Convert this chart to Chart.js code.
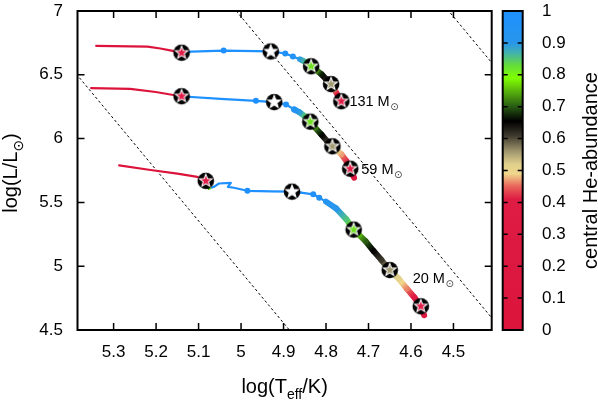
<!DOCTYPE html>
<html>
<head>
<meta charset="utf-8">
<script src="https://cdn.jsdelivr.net/npm/chart.js@4"></script>
<style>
  html, body { margin: 0; padding: 0; background: #fff; }
  canvas { display: block; }
</style>
</head>
<body>
<canvas id="hrd" width="598" height="400"></canvas>
<script>
// axis ticks
const xTicks = [5.3, 5.2, 5.1, 5.0, 4.9, 4.8, 4.7, 4.6, 4.5];
const yTicks = [4.5, 5, 5.5, 6, 6.5, 7];
const cbTicks = [0, 0.1, 0.2, 0.3, 0.4, 0.5, 0.6, 0.7, 0.8, 0.9, 1];

// tracks: [log Teff, log L, central He], ZAMS first
const track131 = [
  [4.762, 6.280, 0.27], [4.771, 6.334, 0.38], [4.781, 6.389, 0.47], [4.788, 6.427, 0.56],
  [4.800, 6.466, 0.62], [4.811, 6.505, 0.67], [4.823, 6.536, 0.74], [4.835, 6.567, 0.80],
  [4.847, 6.598, 0.85], [4.861, 6.621, 0.89], [4.878, 6.644, 0.95], [4.896, 6.667, 0.98],
  [4.930, 6.683, 1.0], [5.041, 6.690, 1.0], [5.135, 6.679, 1.0], [5.142, 6.675, 0],
  [5.161, 6.687, 0], [5.190, 6.706, 0], [5.220, 6.721, 0], [5.341, 6.727, 0]
];
const track59 = [
  [4.734, 5.694, 0.27], [4.743, 5.762, 0.32], [4.752, 5.824, 0.42], [4.764, 5.878, 0.47],
  [4.776, 5.913, 0.51], [4.785, 5.940, 0.56], [4.797, 5.978, 0.61], [4.811, 6.032, 0.66],
  [4.826, 6.087, 0.72], [4.837, 6.133, 0.80], [4.849, 6.172, 0.84], [4.863, 6.207, 0.89],
  [4.875, 6.228, 0.94], [4.894, 6.267, 0.97], [4.922, 6.286, 1.0], [4.965, 6.296, 1.0],
  [5.048, 6.311, 1.0], [5.135, 6.330, 1.0], [5.142, 6.332, 0], [5.201, 6.365, 0],
  [5.261, 6.389, 0], [5.353, 6.396, 0]
];
const track20 = [
  [4.569, 4.616, 0.27], [4.577, 4.686, 0.32], [4.592, 4.755, 0.40], [4.610, 4.825, 0.46],
  [4.629, 4.902, 0.51], [4.651, 4.972, 0.56], [4.670, 5.050, 0.61], [4.688, 5.119, 0.65],
  [4.707, 5.197, 0.70], [4.724, 5.251, 0.76], [4.736, 5.289, 0.80], [4.752, 5.367, 0.85],
  [4.776, 5.452, 0.90], [4.800, 5.506, 0.93], [4.816, 5.537, 0.96], [4.830, 5.563, 0.98],
  [4.859, 5.576, 1.0], [4.880, 5.584, 1.0], [4.930, 5.587, 1.0], [4.985, 5.591, 1.0],
  [5.017, 5.615, 1.0], [5.031, 5.622, 1.0], [5.024, 5.653, 1.0], [5.052, 5.648, 1.0],
  [5.064, 5.622, 1.0], [5.076, 5.607, 0.75], [5.081, 5.638, 0.1], [5.083, 5.669, 0],
  [5.103, 5.700, 0], [5.150, 5.725, 0], [5.213, 5.754, 0], [5.287, 5.790, 0]
];
// model points shown as dots (indices into the tracks)
const dots131 = [10, 11, 13];
const dots59 = [12, 13, 15];
const dots20 = [14, 15, 19];

// marked stages: ZAMS, He 0.55, He 0.8, end H-burning, end He-burning
const stars131 = [[4.764, 6.293], [4.788, 6.427], [4.835, 6.567], [4.930, 6.683], [5.140, 6.673]];
const stars59 = [[4.743, 5.764], [4.785, 5.940], [4.837, 6.133], [4.922, 6.286], [5.140, 6.332]];
const stars20 = [[4.577, 4.686], [4.650, 4.970], [4.735, 5.287], [4.880, 5.584], [5.083, 5.669]];

const massLabels = ['131', '59', '20'];
const massLabelX = [4.745, 4.717, 4.596];
const massLabelY = [6.255, 5.723, 4.871];

// lines of constant radius, R / Rsun
const radii = [1, 10, 100];

const FONT = '"Liberation Sans", "DejaVu Sans", sans-serif';

// colour map for central He abundance
const cmapStops = [
  [0.00, [220, 20, 60]], [0.41, [222, 28, 68]], [0.45, [232, 100, 90]],
  [0.49, [240, 215, 140]], [0.52, [224, 208, 140]], [0.56, [160, 150, 110]],
  [0.61, [60, 56, 44]], [0.655, [0, 0, 0]], [0.70, [40, 90, 20]],
  [0.76, [100, 200, 10]], [0.79, [128, 255, 0]], [0.83, [100, 220, 60]],
  [0.87, [64, 176, 176]], [0.90, [40, 150, 235]], [1.00, [30, 144, 255]]
];
function cmap(v) {
  v = Math.max(0, Math.min(1, v));
  for (let i = 1; i < cmapStops.length; i++) {
    const [v1, c1] = cmapStops[i];
    if (v <= v1) {
      const [v0, c0] = cmapStops[i - 1];
      const t = (v - v0) / (v1 - v0);
      const c = c0.map((a, k) => Math.round(a + (c1[k] - a) * t));
      return `rgb(${c[0]},${c[1]},${c[2]})`;
    }
  }
  return 'rgb(30,144,255)';
}

function segGradient(c, track) {
  const h0 = track[c.p0DataIndex][2], h1 = track[c.p1DataIndex][2];
  if (h0 === h1 || (c.p0.x === c.p1.x && c.p0.y === c.p1.y)) return cmap((h0 + h1) / 2);
  const g = c.chart.ctx.createLinearGradient(c.p0.x, c.p0.y, c.p1.x, c.p1.y);
  g.addColorStop(0, cmap(h0));
  cmapStops.forEach(([v]) => {
    const t = (v - h0) / (h1 - h0);
    if (t > 0 && t < 1) g.addColorStop(t, cmap(v));
  });
  g.addColorStop(1, cmap(h1));
  return g;
}

function trackDataset(track, dots) {
  const peak = track.findIndex(p => p[2] >= 1);
  return {
    type: 'line',
    data: track.map(p => ({ x: p[0], y: p[1] })),
    order: 1,
    borderWidth: 2.2,
    tension: 0,
    borderCapStyle: 'round',
    borderJoinStyle: 'round',
    segment: {
      borderColor: c => segGradient(c, track),
      borderWidth: c => (c.p1DataIndex <= peak &&
        Math.max(track[c.p0DataIndex][2], track[c.p1DataIndex][2]) < 0.95) ? 6 : 2.2
    },
    pointRadius: c => dots.includes(c.dataIndex) ? 3 : 0,
    pointBackgroundColor: c => cmap(track[c.dataIndex][2]),
    pointBorderWidth: 0
  };
}

function starIcon(fill) {
  const c = document.createElement('canvas');
  c.width = c.height = 20;
  const g = c.getContext('2d');
  g.fillStyle = '#000';
  g.beginPath();
  g.arc(10, 10, 8.3, 0, 2 * Math.PI);
  g.fill();
  g.beginPath();
  for (let i = 0; i < 10; i++) {
    const r = i % 2 ? 2.8 : 6.6;
    const a = -Math.PI / 2 + i * Math.PI / 5;
    g.lineTo(10 + r * Math.cos(a), 10 + r * Math.sin(a));
  }
  g.closePath();
  g.fillStyle = fill;
  g.fill();
  g.strokeStyle = '#fff';
  g.lineWidth = 1.1;
  g.stroke();
  return c;
}
const starIcons = ['#e31d48', '#a39b74', '#6fe020', '#ffffff', '#e31d48'].map(starIcon);

const starPoints = [...stars131, ...stars59, ...stars20].map(p => ({ x: p[0], y: p[1] }));

const radiusLines = radii.map(r => ({
  type: 'line',
  data: [4.3, 5.5].map(t => ({ x: t, y: 4 * t - 15.045 + 2 * Math.log10(r) })),
  order: 2,
  borderColor: '#000',
  borderWidth: 1,
  borderDash: [2.5, 2.5],
  pointRadius: 0
}));

function richText(ctx, parts, x, y, size, align) {
  const sub = Math.round(size * 0.7);
  let w = 0;
  parts.forEach(([t, s]) => {
    ctx.font = `${s ? sub : size}px ${FONT}`;
    w += ctx.measureText(t).width;
  });
  let cx = align === 'center' ? x - w / 2 : x;
  ctx.textAlign = 'left';
  ctx.textBaseline = 'alphabetic';
  parts.forEach(([t, s]) => {
    ctx.font = `${s ? sub : size}px ${FONT}`;
    ctx.fillText(t, cx, y + (s ? size * 0.3 : 0));
    cx += ctx.measureText(t).width;
  });
}

const frame = {
  id: 'frame',
  afterDatasetsDraw(chart) {
    const { ctx, chartArea: a, scales: { x, y, cb } } = chart;
    ctx.save();
    ctx.strokeStyle = '#000';
    ctx.lineWidth = 1.5;
    ctx.beginPath();
    xTicks.forEach(v => {
      const px = x.getPixelForValue(v);
      ctx.moveTo(px, a.bottom); ctx.lineTo(px, a.bottom - 7);
      ctx.moveTo(px, a.top); ctx.lineTo(px, a.top + 7);
    });
    yTicks.forEach(v => {
      const py = y.getPixelForValue(v);
      ctx.moveTo(a.left, py); ctx.lineTo(a.left + 7, py);
      ctx.moveTo(a.right, py); ctx.lineTo(a.right - 7, py);
    });
    ctx.stroke();
    ctx.lineWidth = 2;
    ctx.strokeRect(a.left, a.top, a.right - a.left, a.bottom - a.top);

    // colour bar
    const bl = a.right + 11, br = a.right + 31;
    const bt = cb.getPixelForValue(1), bb = cb.getPixelForValue(0);
    const g = ctx.createLinearGradient(0, bb, 0, bt);
    cmapStops.forEach(([v]) => g.addColorStop(v, cmap(v)));
    ctx.fillStyle = g;
    ctx.fillRect(bl, bt, br - bl, bb - bt);
    ctx.lineWidth = 1.5;
    ctx.beginPath();
    cbTicks.forEach(v => {
      const py = cb.getPixelForValue(v);
      ctx.moveTo(bl, py); ctx.lineTo(bl + 5, py);
      ctx.moveTo(br, py); ctx.lineTo(br - 5, py);
    });
    ctx.stroke();
    ctx.lineWidth = 2;
    ctx.strokeRect(bl, bt, br - bl, bb - bt);

    // mass labels
    ctx.fillStyle = '#000';
    massLabels.forEach((m, i) => {
      const px = x.getPixelForValue(massLabelX[i]);
      const py = y.getPixelForValue(massLabelY[i]);
      ctx.font = `14.5px ${FONT}`;
      ctx.textAlign = 'left';
      ctx.textBaseline = 'alphabetic';
      const t = m + ' M';
      ctx.fillText(t, px, py);
      const w = ctx.measureText(t).width;
      ctx.font = `10px ${FONT}`;
      ctx.fillStyle = '#444';
      ctx.fillText('\u2299', px + w + 0.5, py + 4);
      ctx.fillStyle = '#000';
    });
    ctx.restore();
  },
  afterDraw(chart) {
    const { ctx, chartArea: a } = chart;
    ctx.save();
    ctx.fillStyle = '#000';
    richText(ctx, [['log(T', 0], ['eff', 1], ['/K)', 0]], (a.left + a.right) / 2, 392.5, 20, 'center');
    ctx.save();
    ctx.translate(16.5, 173);
    ctx.rotate(-Math.PI / 2);
    richText(ctx, [['log(L/L', 0], ['\u2299', 1], [')', 0]], 0, 0, 20, 'center');
    ctx.restore();
    ctx.save();
    ctx.translate(596.5, (a.top + a.bottom) / 2);
    ctx.rotate(-Math.PI / 2);
    richText(ctx, [['central He-abundance', 0]], 0, 0, 20, 'center');
    ctx.restore();
    ctx.restore();
  }
};

const fmt = v => String(+(+v).toFixed(2));
const tickFont = { family: FONT, size: 17 };

new Chart(document.getElementById('hrd'), {
  type: 'line',
  data: {
    datasets: [
      {
        type: 'scatter',
        data: starPoints,
        order: 0,
        pointStyle: c => starIcons[c.dataIndex % 5],
        pointRadius: 10,
        showLine: false
      },
      trackDataset(track131, dots131),
      trackDataset(track59, dots59),
      trackDataset(track20, dots20),
      ...radiusLines
    ]
  },
  options: {
    responsive: false,
    animation: false,
    events: [],
    layout: { padding: { top: 7, left: 0, right: 0, bottom: 0 } },
    plugins: { legend: { display: false }, tooltip: { enabled: false } },
    scales: {
      x: {
        type: 'linear',
        reverse: true,
        min: 4.41,
        max: 5.385,
        afterBuildTicks: s => { s.ticks = xTicks.map(v => ({ value: v })); },
        afterFit: s => { s.height = 70; s.paddingLeft = 0; s.paddingRight = 0; },
        grid: { display: false, drawTicks: false },
        border: { display: false },
        ticks: { padding: 12.5, font: tickFont, color: '#000', callback: fmt, maxRotation: 0, autoSkip: false }
      },
      y: {
        type: 'linear',
        min: 4.5,
        max: 7,
        afterBuildTicks: s => { s.ticks = yTicks.map(v => ({ value: v })); },
        afterFit: s => { s.width = 77.5; s.paddingTop = 0; s.paddingBottom = 0; },
        grid: { display: false, drawTicks: false },
        border: { display: false },
        ticks: { padding: 14.5, font: tickFont, color: '#000', callback: fmt }
      },
      cb: {
        type: 'linear',
        position: 'right',
        min: 0,
        max: 1,
        afterBuildTicks: s => { s.ticks = cbTicks.map(v => ({ value: v })); },
        afterFit: s => { s.width = 106.3; s.paddingTop = 0; s.paddingBottom = 0; },
        grid: { display: false, drawTicks: false },
        border: { display: false },
        ticks: { padding: 50.3, font: tickFont, color: '#000', callback: fmt }
      }
    }
  },
  plugins: [frame]
});
</script>
</body>
</html>
